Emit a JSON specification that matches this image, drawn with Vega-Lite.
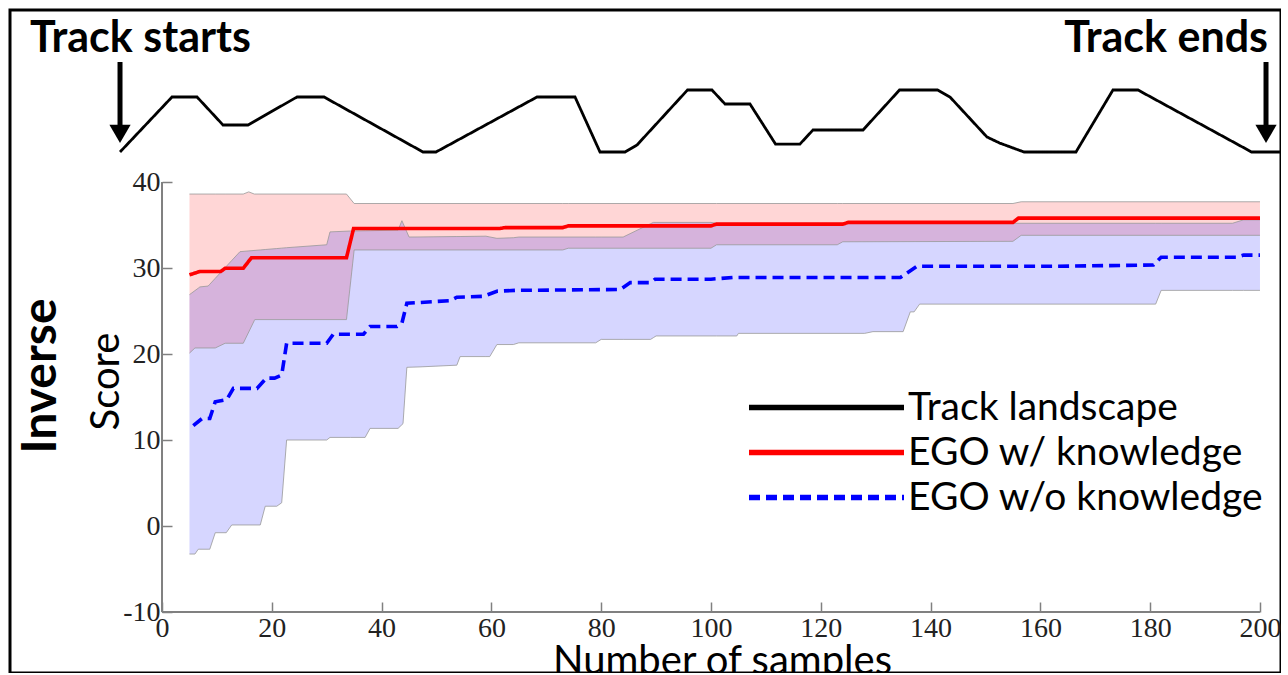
{
  "$schema": "https://vega.github.io/schema/vega-lite/v6.json",
  "width": 1271,
  "height": 663,
  "autosize": "none",
  "padding": {"left": 10, "top": 10, "right": 0, "bottom": 0},
  "background": "white",
  "config": {
    "view": {"stroke": "black", "strokeWidth": 3},
    "axis": {
      "grid": false,
      "domain": false,
      "labelFont": "Liberation Serif",
      "labelFontSize": 28,
      "labelColor": "#222222",
      "labelBound": false,
      "labelFlush": false,
      "labelOverlap": false,
      "labelExpr": "datum.value < 0 ? '-' + abs(datum.value) : '' + datum.value",
      "tickColor": "#808080",
      "tickWidth": 1.5,
      "tickSize": -10,
      "titleFont": "Lato",
      "titleFontSize": 40,
      "titleFontWeight": "normal",
      "titleColor": "black"
    }
  },
  "datasets": {
    "band": [
      {"method": "EGO w/ knowledge", "s": 5, "hi": 38.6, "lo": 20.1},
      {"method": "EGO w/ knowledge", "s": 6, "hi": 38.6, "lo": 20.7},
      {"method": "EGO w/ knowledge", "s": 9.7, "hi": 38.6, "lo": 20.7},
      {"method": "EGO w/ knowledge", "s": 11.5, "hi": 38.6, "lo": 21.25},
      {"method": "EGO w/ knowledge", "s": 14.8, "hi": 38.6, "lo": 21.25},
      {"method": "EGO w/ knowledge", "s": 15.8, "hi": 38.85, "lo": 22.56},
      {"method": "EGO w/ knowledge", "s": 16.8, "hi": 38.6, "lo": 23.87},
      {"method": "EGO w/ knowledge", "s": 16.9, "hi": 38.6, "lo": 24.0},
      {"method": "EGO w/ knowledge", "s": 33.6, "hi": 38.6, "lo": 24.0},
      {"method": "EGO w/ knowledge", "s": 35, "hi": 37.5, "lo": 32.1},
      {"method": "EGO w/ knowledge", "s": 73, "hi": 37.5, "lo": 32.1},
      {"method": "EGO w/ knowledge", "s": 74, "hi": 37.5, "lo": 32.3},
      {"method": "EGO w/ knowledge", "s": 100, "hi": 37.5, "lo": 32.3},
      {"method": "EGO w/ knowledge", "s": 101, "hi": 37.5, "lo": 32.7},
      {"method": "EGO w/ knowledge", "s": 123, "hi": 37.5, "lo": 32.7},
      {"method": "EGO w/ knowledge", "s": 124, "hi": 37.5, "lo": 33.05},
      {"method": "EGO w/ knowledge", "s": 155, "hi": 37.5, "lo": 33.1},
      {"method": "EGO w/ knowledge", "s": 156.5, "hi": 37.7, "lo": 33.8},
      {"method": "EGO w/ knowledge", "s": 200, "hi": 37.7, "lo": 33.8},
      {"method": "EGO w/o knowledge", "s": 5, "hi": 26.9, "lo": -3.26},
      {"method": "EGO w/o knowledge", "s": 6, "hi": 27.37, "lo": -3.26},
      {"method": "EGO w/o knowledge", "s": 6.6, "hi": 27.65, "lo": -2.7},
      {"method": "EGO w/o knowledge", "s": 6.9, "hi": 27.8, "lo": -2.7},
      {"method": "EGO w/o knowledge", "s": 8.4, "hi": 27.9, "lo": -2.7},
      {"method": "EGO w/o knowledge", "s": 8.7, "hi": 28.11, "lo": -2.7},
      {"method": "EGO w/o knowledge", "s": 9.7, "hi": 28.8, "lo": -0.78},
      {"method": "EGO w/o knowledge", "s": 11.7, "hi": 30.18, "lo": -0.78},
      {"method": "EGO w/o knowledge", "s": 12.7, "hi": 30.87, "lo": 0.12},
      {"method": "EGO w/o knowledge", "s": 14.2, "hi": 31.9, "lo": 0.12},
      {"method": "EGO w/o knowledge", "s": 17.9, "hi": 32.1, "lo": 0.12},
      {"method": "EGO w/o knowledge", "s": 18.8, "hi": 32.15, "lo": 2.3},
      {"method": "EGO w/o knowledge", "s": 20.9, "hi": 32.26, "lo": 2.3},
      {"method": "EGO w/o knowledge", "s": 21.8, "hi": 32.31, "lo": 2.7},
      {"method": "EGO w/o knowledge", "s": 22.7, "hi": 32.36, "lo": 10.0},
      {"method": "EGO w/o knowledge", "s": 30, "hi": 32.7, "lo": 10.0},
      {"method": "EGO w/o knowledge", "s": 30.6, "hi": 34.2, "lo": 10.3},
      {"method": "EGO w/o knowledge", "s": 34.3, "hi": 34.3, "lo": 10.3},
      {"method": "EGO w/o knowledge", "s": 37, "hi": 34.33, "lo": 10.3},
      {"method": "EGO w/o knowledge", "s": 37.9, "hi": 34.34, "lo": 11.35},
      {"method": "EGO w/o knowledge", "s": 43, "hi": 34.4, "lo": 11.35},
      {"method": "EGO w/o knowledge", "s": 43.7, "hi": 35.5, "lo": 11.78},
      {"method": "EGO w/o knowledge", "s": 43.9, "hi": 35.21, "lo": 11.9},
      {"method": "EGO w/o knowledge", "s": 44.6, "hi": 34.19, "lo": 18.45},
      {"method": "EGO w/o knowledge", "s": 45, "hi": 33.6, "lo": 18.46},
      {"method": "EGO w/o knowledge", "s": 47, "hi": 33.61, "lo": 18.5},
      {"method": "EGO w/o knowledge", "s": 53.7, "hi": 33.66, "lo": 18.7},
      {"method": "EGO w/o knowledge", "s": 54.3, "hi": 33.66, "lo": 19.7},
      {"method": "EGO w/o knowledge", "s": 59, "hi": 33.7, "lo": 19.7},
      {"method": "EGO w/o knowledge", "s": 59.7, "hi": 33.61, "lo": 19.7},
      {"method": "EGO w/o knowledge", "s": 61, "hi": 33.45, "lo": 21.1},
      {"method": "EGO w/o knowledge", "s": 64, "hi": 33.52, "lo": 21.1},
      {"method": "EGO w/o knowledge", "s": 65, "hi": 33.6, "lo": 21.3},
      {"method": "EGO w/o knowledge", "s": 79, "hi": 33.6, "lo": 21.3},
      {"method": "EGO w/o knowledge", "s": 80, "hi": 33.6, "lo": 21.7},
      {"method": "EGO w/o knowledge", "s": 84, "hi": 33.6, "lo": 21.7},
      {"method": "EGO w/o knowledge", "s": 89, "hi": 35.15, "lo": 21.7},
      {"method": "EGO w/o knowledge", "s": 89.5, "hi": 35.3, "lo": 21.9},
      {"method": "EGO w/o knowledge", "s": 90, "hi": 35.3, "lo": 22.1},
      {"method": "EGO w/o knowledge", "s": 100, "hi": 35.3, "lo": 22.1},
      {"method": "EGO w/o knowledge", "s": 101, "hi": 35.2, "lo": 22.1},
      {"method": "EGO w/o knowledge", "s": 104.7, "hi": 35.2, "lo": 22.1},
      {"method": "EGO w/o knowledge", "s": 105, "hi": 35.2, "lo": 22.4},
      {"method": "EGO w/o knowledge", "s": 128, "hi": 35.2, "lo": 22.4},
      {"method": "EGO w/o knowledge", "s": 129.5, "hi": 35.2, "lo": 22.6},
      {"method": "EGO w/o knowledge", "s": 135, "hi": 35.2, "lo": 22.6},
      {"method": "EGO w/o knowledge", "s": 136.3, "hi": 35.2, "lo": 24.9},
      {"method": "EGO w/o knowledge", "s": 137, "hi": 35.2, "lo": 24.9},
      {"method": "EGO w/o knowledge", "s": 138, "hi": 35.2, "lo": 25.8},
      {"method": "EGO w/o knowledge", "s": 181, "hi": 35.2, "lo": 25.8},
      {"method": "EGO w/o knowledge", "s": 182, "hi": 35.2, "lo": 27.4},
      {"method": "EGO w/o knowledge", "s": 195, "hi": 35.2, "lo": 27.4},
      {"method": "EGO w/o knowledge", "s": 197, "hi": 35.6, "lo": 27.4},
      {"method": "EGO w/o knowledge", "s": 200, "hi": 35.6, "lo": 27.4}
    ],
    "mean": [
      {"series": "EGO w/ knowledge", "s": 5, "score": 29.2},
      {"series": "EGO w/ knowledge", "s": 6.9, "score": 29.6},
      {"series": "EGO w/ knowledge", "s": 10.7, "score": 29.6},
      {"series": "EGO w/ knowledge", "s": 11.5, "score": 29.97},
      {"series": "EGO w/ knowledge", "s": 14.8, "score": 29.97},
      {"series": "EGO w/ knowledge", "s": 16.3, "score": 31.2},
      {"series": "EGO w/ knowledge", "s": 33.6, "score": 31.2},
      {"series": "EGO w/ knowledge", "s": 34.9, "score": 34.6},
      {"series": "EGO w/ knowledge", "s": 61.6, "score": 34.6},
      {"series": "EGO w/ knowledge", "s": 62.5, "score": 34.7},
      {"series": "EGO w/ knowledge", "s": 73, "score": 34.7},
      {"series": "EGO w/ knowledge", "s": 74, "score": 34.9},
      {"series": "EGO w/ knowledge", "s": 100, "score": 34.9},
      {"series": "EGO w/ knowledge", "s": 101, "score": 35.1},
      {"series": "EGO w/ knowledge", "s": 124, "score": 35.1},
      {"series": "EGO w/ knowledge", "s": 125, "score": 35.3},
      {"series": "EGO w/ knowledge", "s": 155, "score": 35.3},
      {"series": "EGO w/ knowledge", "s": 156, "score": 35.8},
      {"series": "EGO w/ knowledge", "s": 200, "score": 35.8},
      {"series": "EGO w/o knowledge", "s": 5.7, "score": 11.66},
      {"series": "EGO w/o knowledge", "s": 7.3, "score": 12.5},
      {"series": "EGO w/o knowledge", "s": 8.7, "score": 12.5},
      {"series": "EGO w/o knowledge", "s": 9.7, "score": 14.45},
      {"series": "EGO w/o knowledge", "s": 11.8, "score": 14.7},
      {"series": "EGO w/o knowledge", "s": 13, "score": 16.0},
      {"series": "EGO w/o knowledge", "s": 17.3, "score": 16.0},
      {"series": "EGO w/o knowledge", "s": 19, "score": 17.2},
      {"series": "EGO w/o knowledge", "s": 20.5, "score": 17.2},
      {"series": "EGO w/o knowledge", "s": 21.8, "score": 17.55},
      {"series": "EGO w/o knowledge", "s": 22.7, "score": 21.25},
      {"series": "EGO w/o knowledge", "s": 30, "score": 21.25},
      {"series": "EGO w/o knowledge", "s": 31.2, "score": 22.3},
      {"series": "EGO w/o knowledge", "s": 36.7, "score": 22.3},
      {"series": "EGO w/o knowledge", "s": 37.9, "score": 23.2},
      {"series": "EGO w/o knowledge", "s": 42.8, "score": 23.2},
      {"series": "EGO w/o knowledge", "s": 43.7, "score": 23.6},
      {"series": "EGO w/o knowledge", "s": 44.6, "score": 25.9},
      {"series": "EGO w/o knowledge", "s": 52.5, "score": 26.2},
      {"series": "EGO w/o knowledge", "s": 53.7, "score": 26.6},
      {"series": "EGO w/o knowledge", "s": 58.5, "score": 26.7},
      {"series": "EGO w/o knowledge", "s": 61, "score": 27.3},
      {"series": "EGO w/o knowledge", "s": 64.5, "score": 27.4},
      {"series": "EGO w/o knowledge", "s": 83.5, "score": 27.5},
      {"series": "EGO w/o knowledge", "s": 85.3, "score": 28.3},
      {"series": "EGO w/o knowledge", "s": 89, "score": 28.3},
      {"series": "EGO w/o knowledge", "s": 89.8, "score": 28.7},
      {"series": "EGO w/o knowledge", "s": 100, "score": 28.7},
      {"series": "EGO w/o knowledge", "s": 104, "score": 28.9},
      {"series": "EGO w/o knowledge", "s": 134.5, "score": 28.9},
      {"series": "EGO w/o knowledge", "s": 137.5, "score": 30.2},
      {"series": "EGO w/o knowledge", "s": 163, "score": 30.2},
      {"series": "EGO w/o knowledge", "s": 180.6, "score": 30.35},
      {"series": "EGO w/o knowledge", "s": 182, "score": 31.25},
      {"series": "EGO w/o knowledge", "s": 195.8, "score": 31.25},
      {"series": "EGO w/o knowledge", "s": 197, "score": 31.5},
      {"series": "EGO w/o knowledge", "s": 200, "score": 31.5}
    ],
    "track": [
      {"series": "Track landscape", "s": -7.65, "elev": 0},
      {"series": "Track landscape", "s": 1.82, "elev": 10},
      {"series": "Track landscape", "s": 6.38, "elev": 10},
      {"series": "Track landscape", "s": 11.11, "elev": 4.91},
      {"series": "Track landscape", "s": 15.66, "elev": 4.91},
      {"series": "Track landscape", "s": 24.59, "elev": 10},
      {"series": "Track landscape", "s": 29.51, "elev": 10},
      {"series": "Track landscape", "s": 47.54, "elev": 0},
      {"series": "Track landscape", "s": 49.91, "elev": 0},
      {"series": "Track landscape", "s": 68.31, "elev": 10},
      {"series": "Track landscape", "s": 75.23, "elev": 10},
      {"series": "Track landscape", "s": 79.78, "elev": 0},
      {"series": "Track landscape", "s": 84.34, "elev": 0},
      {"series": "Track landscape", "s": 86.52, "elev": 1.27},
      {"series": "Track landscape", "s": 95.72, "elev": 11.27},
      {"series": "Track landscape", "s": 100.18, "elev": 11.27},
      {"series": "Track landscape", "s": 102.55, "elev": 8.73},
      {"series": "Track landscape", "s": 107.1, "elev": 8.73},
      {"series": "Track landscape", "s": 111.75, "elev": 1.45},
      {"series": "Track landscape", "s": 116.21, "elev": 1.45},
      {"series": "Track landscape", "s": 118.58, "elev": 4.0},
      {"series": "Track landscape", "s": 127.69, "elev": 4.0},
      {"series": "Track landscape", "s": 134.34, "elev": 11.27},
      {"series": "Track landscape", "s": 141.26, "elev": 11.27},
      {"series": "Track landscape", "s": 143.53, "elev": 10},
      {"series": "Track landscape", "s": 150.27, "elev": 2.73},
      {"series": "Track landscape", "s": 152.55, "elev": 1.64},
      {"series": "Track landscape", "s": 157.01, "elev": 0},
      {"series": "Track landscape", "s": 166.48, "elev": 0},
      {"series": "Track landscape", "s": 173.22, "elev": 11.27},
      {"series": "Track landscape", "s": 177.78, "elev": 11.27},
      {"series": "Track landscape", "s": 198.47, "elev": 0},
      {"series": "Track landscape", "s": 203.64, "elev": 0}
    ]
  },
  "layer": [
    {
      "layer": [
        {
          "data": {"name": "band"},
          "transform": [{"filter": "datum.method === 'EGO w/ knowledge'"}],
          "mark": {"type": "area", "color": "#ff0000", "opacity": 0.16},
          "encoding": {
            "x": {"field": "s", "type": "quantitative", "title": "Number of samples",
              "scale": {"domain": [-27.69, 203.83], "nice": false, "zero": false},
              "axis": {"values": [0, 20, 40, 60, 80, 100, 120, 140, 160, 180, 200], "offset": -61, "labelPadding": 12, "titleX": 712, "titleY": 61, "titleBaseline": "alphabetic"}},
            "y": {"field": "hi", "type": "quantitative", "title": "Score",
              "scale": {"domain": [-17.093, 60], "nice": false, "zero": false},
              "axis": {"values": [-10, 0, 10, 20, 30, 40], "offset": -152, "labelPadding": 12, "titleX": -44, "titleY": 371, "titleBaseline": "alphabetic"}},
            "y2": {"field": "lo"}
          }
        },
        {
          "data": {"name": "band"},
          "transform": [{"filter": "datum.method === 'EGO w/o knowledge'"}],
          "mark": {"type": "area", "color": "#0000ff", "opacity": 0.16},
          "encoding": {
            "x": {"field": "s", "type": "quantitative", "title": "Number of samples", "scale": {"domain": [-27.69, 203.83], "nice": false, "zero": false}},
            "y": {"field": "hi", "type": "quantitative", "title": "Score", "scale": {"domain": [-17.093, 60], "nice": false, "zero": false}},
            "y2": {"field": "lo"}
          }
        },
        {
          "data": {"name": "band"},
          "mark": {"type": "line", "color": "#999999", "strokeWidth": 1, "opacity": 0.8},
          "encoding": {
            "x": {"field": "s", "type": "quantitative", "title": "Number of samples", "scale": {"domain": [-27.69, 203.83], "nice": false, "zero": false}},
            "y": {"field": "hi", "type": "quantitative", "title": "Score", "scale": {"domain": [-17.093, 60], "nice": false, "zero": false}},
            "detail": {"field": "method"}
          }
        },
        {
          "data": {"name": "band"},
          "mark": {"type": "line", "color": "#999999", "strokeWidth": 1, "opacity": 0.8},
          "encoding": {
            "x": {"field": "s", "type": "quantitative", "title": "Number of samples", "scale": {"domain": [-27.69, 203.83], "nice": false, "zero": false}},
            "y": {"field": "lo", "type": "quantitative", "title": "Score", "scale": {"domain": [-17.093, 60], "nice": false, "zero": false}},
            "detail": {"field": "method"}
          }
        },
        {
          "data": {"name": "mean"},
          "mark": {"type": "line", "strokeWidth": 3.6},
          "encoding": {
            "x": {"field": "s", "type": "quantitative", "title": "Number of samples", "scale": {"domain": [-27.69, 203.83], "nice": false, "zero": false}},
            "y": {"field": "score", "type": "quantitative", "title": "Score", "scale": {"domain": [-17.093, 60], "nice": false, "zero": false}},
            "color": {"field": "series", "type": "nominal", "title": null,
              "scale": {"domain": ["Track landscape", "EGO w/ knowledge", "EGO w/o knowledge"], "range": ["#000000", "#ff0000", "#0000ff"]},
              "legend": {"orient": "none", "legendX": 797, "legendY": 378, "symbolType": "M-10,0H10", "symbolSize": 240.25, "symbolStrokeWidth": 5.5, "labelFont": "Lato", "labelFontSize": 39, "labelColor": "black", "labelOffset": 62, "labelLimit": 0, "rowPadding": 5}},
            "strokeDash": {"field": "series", "type": "nominal", "title": null,
              "scale": {"domain": ["Track landscape", "EGO w/ knowledge", "EGO w/o knowledge"], "range": [[1, 0], [1, 0], [11, 6]]},
              "legend": {"orient": "none", "legendX": 797, "legendY": 378, "symbolType": "M-10,0H10", "symbolSize": 240.25, "symbolStrokeWidth": 5.5, "labelFont": "Lato", "labelFontSize": 39, "labelColor": "black", "labelOffset": 62, "labelLimit": 0, "rowPadding": 5}}
          }
        },
        {
          "data": {"values": [{}]},
          "mark": {"type": "rule", "color": "#808080", "strokeWidth": 2},
          "encoding": {
            "x": {"datum": 0, "type": "quantitative", "title": "Number of samples", "scale": {"domain": [-27.69, 203.83], "nice": false, "zero": false}},
            "x2": {"datum": 200},
            "y": {"datum": -10, "type": "quantitative", "title": "Score", "scale": {"domain": [-17.093, 60], "nice": false, "zero": false}}
          }
        },
        {
          "data": {"values": [{}]},
          "mark": {"type": "rule", "color": "#808080", "strokeWidth": 2},
          "encoding": {
            "x": {"datum": 0, "type": "quantitative", "title": "Number of samples", "scale": {"domain": [-27.69, 203.83], "nice": false, "zero": false}},
            "y": {"datum": -10, "type": "quantitative", "title": "Score", "scale": {"domain": [-17.093, 60], "nice": false, "zero": false}},
            "y2": {"datum": 40}
          }
        },
        {
          "data": {"values": [{}]},
          "mark": {"type": "text", "font": "Lato", "fontWeight": "bold", "fontSize": 48, "angle": 270, "align": "center", "baseline": "middle", "color": "black"},
          "encoding": {
            "x": {"datum": -21.86, "type": "quantitative", "title": "Number of samples", "scale": {"domain": [-27.69, 203.83], "nice": false, "zero": false}},
            "y": {"datum": 17.44, "type": "quantitative", "title": "Score", "scale": {"domain": [-17.093, 60], "nice": false, "zero": false}},
            "text": {"value": "Inverse"}
          }
        }
      ]
    },
    {
      "layer": [
        {
          "data": {"name": "track"},
          "mark": {"type": "line", "strokeWidth": 2.8},
          "encoding": {
            "x": {"field": "s", "type": "quantitative", "title": "Number of samples", "scale": {"domain": [-27.69, 203.83], "nice": false, "zero": false}},
            "y": {"field": "elev", "type": "quantitative", "axis": null, "scale": {"domain": [-94.727, 25.818], "nice": false, "zero": false}},
            "color": {"field": "series", "type": "nominal", "title": null,
              "scale": {"domain": ["Track landscape", "EGO w/ knowledge", "EGO w/o knowledge"], "range": ["#000000", "#ff0000", "#0000ff"]},
              "legend": {"orient": "none", "legendX": 797, "legendY": 378, "symbolType": "M-10,0H10", "symbolSize": 240.25, "symbolStrokeWidth": 5.5, "labelFont": "Lato", "labelFontSize": 39, "labelColor": "black", "labelOffset": 62, "labelLimit": 0, "rowPadding": 5}},
            "strokeDash": {"field": "series", "type": "nominal", "title": null,
              "scale": {"domain": ["Track landscape", "EGO w/ knowledge", "EGO w/o knowledge"], "range": [[1, 0], [1, 0], [11, 6]]},
              "legend": {"orient": "none", "legendX": 797, "legendY": 378, "symbolType": "M-10,0H10", "symbolSize": 240.25, "symbolStrokeWidth": 5.5, "labelFont": "Lato", "labelFontSize": 39, "labelColor": "black", "labelOffset": 62, "labelLimit": 0, "rowPadding": 5}}
          }
        },
        {
          "data": {"values": [{}]},
          "mark": {"type": "rule", "color": "black", "strokeWidth": 5},
          "encoding": {
            "x": {"datum": -7.65, "type": "quantitative", "title": "Number of samples", "scale": {"domain": [-27.69, 203.83], "nice": false, "zero": false}},
            "y": {"datum": 16.36, "type": "quantitative", "axis": null, "scale": {"domain": [-94.727, 25.818], "nice": false, "zero": false}},
            "y2": {"datum": 4.73}
          }
        },
        {
          "data": {"values": [{}]},
          "mark": {"type": "rule", "color": "black", "strokeWidth": 5},
          "encoding": {
            "x": {"datum": 201.1, "type": "quantitative", "title": "Number of samples", "scale": {"domain": [-27.69, 203.83], "nice": false, "zero": false}},
            "y": {"datum": 16.36, "type": "quantitative", "axis": null, "scale": {"domain": [-94.727, 25.818], "nice": false, "zero": false}},
            "y2": {"datum": 4.73}
          }
        },
        {
          "data": {"values": [{}]},
          "mark": {"type": "point", "shape": "triangle-down", "filled": true, "color": "black", "opacity": 1, "size": 450},
          "encoding": {
            "x": {"datum": -7.65, "type": "quantitative", "title": "Number of samples", "scale": {"domain": [-27.69, 203.83], "nice": false, "zero": false}},
            "y": {"datum": 3.3, "type": "quantitative", "axis": null, "scale": {"domain": [-94.727, 25.818], "nice": false, "zero": false}}
          }
        },
        {
          "data": {"values": [{}]},
          "mark": {"type": "point", "shape": "triangle-down", "filled": true, "color": "black", "opacity": 1, "size": 450},
          "encoding": {
            "x": {"datum": 201.1, "type": "quantitative", "title": "Number of samples", "scale": {"domain": [-27.69, 203.83], "nice": false, "zero": false}},
            "y": {"datum": 3.3, "type": "quantitative", "axis": null, "scale": {"domain": [-94.727, 25.818], "nice": false, "zero": false}}
          }
        },
        {
          "data": {"values": [{}]},
          "mark": {"type": "text", "font": "Lato", "fontWeight": "bold", "fontSize": 43, "align": "left", "baseline": "alphabetic", "color": "black"},
          "encoding": {
            "x": {"datum": -24.04, "type": "quantitative", "title": "Number of samples", "scale": {"domain": [-27.69, 203.83], "nice": false, "zero": false}},
            "y": {"datum": 18.18, "type": "quantitative", "axis": null, "scale": {"domain": [-94.727, 25.818], "nice": false, "zero": false}},
            "text": {"value": "Track starts"}
          }
        },
        {
          "data": {"values": [{}]},
          "mark": {"type": "text", "font": "Lato", "fontWeight": "bold", "fontSize": 43, "align": "right", "baseline": "alphabetic", "color": "black"},
          "encoding": {
            "x": {"datum": 201.46, "type": "quantitative", "title": "Number of samples", "scale": {"domain": [-27.69, 203.83], "nice": false, "zero": false}},
            "y": {"datum": 18.18, "type": "quantitative", "axis": null, "scale": {"domain": [-94.727, 25.818], "nice": false, "zero": false}},
            "text": {"value": "Track ends"}
          }
        }
      ]
    }
  ],
  "resolve": {"scale": {"y": "independent"}}
}
